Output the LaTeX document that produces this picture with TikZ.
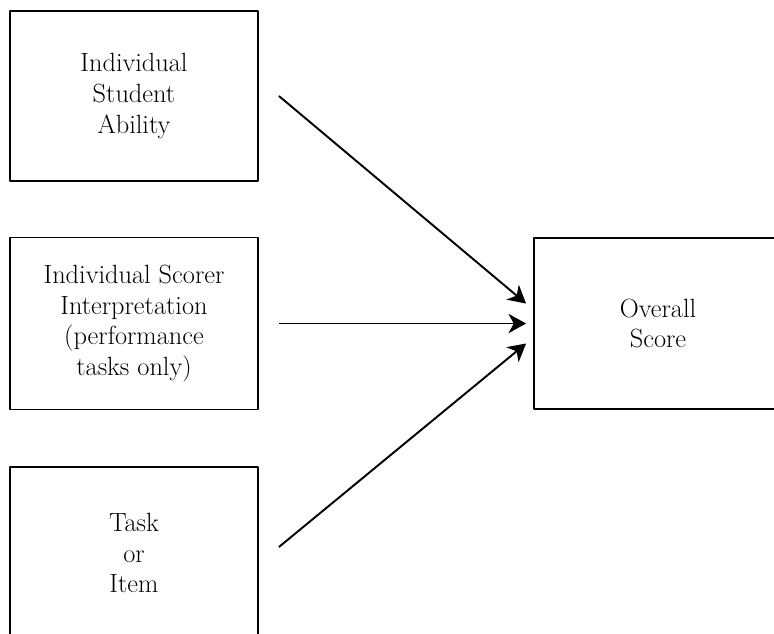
\documentclass[tikz,border=0pt]{standalone}
\usetikzlibrary{arrows.meta}
\begin{document}
\begin{tikzpicture}[x=0.02cm, y=-0.02cm, line join=round,
		font=\fontsize{15}{17.5}\selectfont,
		box/.style={draw, line width=1.1pt, align=center, minimum width=4.96cm, minimum height=3.4cm},
		arrow/.style={line width=1.1pt, -{Stealth[length=10pt,width=11pt,inset=3pt]}}]
	\clip (0,0) rectangle (774,633);
	\node[box] (ability) at (134,96) {Individual\\Student\\Ability};
	\node[box, minimum height=3.44cm] (scorer) at (134,323.5) {Individual Scorer\\Interpretation\\(performance\\tasks only)};
	\node[box, minimum height=3.44cm] (task) at (134,553) {Task\\or\\Item};
	\node[box, minimum height=3.42cm] (score) at (658,323.5) {Overall\\Score};
	\draw[arrow] ([xshift=.4cm]ability.east) -- ([xshift=-.14cm,yshift=.4cm]score.west);
	\draw[arrow] ([xshift=.4cm]scorer.east) -- ([xshift=-.14cm]score.west);
	\draw[arrow] ([xshift=.4cm,yshift=.12cm]task.east) -- ([xshift=-.14cm,yshift=-.4cm]score.west);
\end{tikzpicture}
\end{document}
